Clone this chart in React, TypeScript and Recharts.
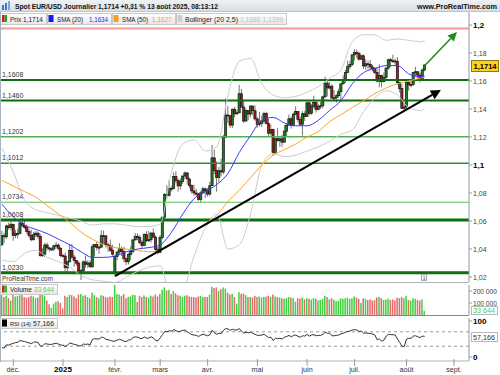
import React from 'react';
import { ComposedChart, Bar, Line, XAxis, YAxis, ReferenceLine, Cell } from 'recharts';

// Daily candles [open, high, low, close], 25 Nov 2024 -> 13 Aug 2025 (weekdays)
const ohlc: number[][] = [
  [1.0430,1.0530,1.0422,1.0495],[1.0495,1.0516,1.0444,1.0487],[1.0487,1.0574,1.0472,1.0565],[1.0565,1.0588,1.0539,1.0553],[1.0553,1.0597,1.0535,1.0577],
  [1.0577,1.0578,1.0459,1.0497],[1.0497,1.0537,1.0476,1.0510],[1.0510,1.0545,1.0475,1.0512],[1.0512,1.0600,1.0506,1.0586],[1.0586,1.0630,1.0555,1.0567],
  [1.0567,1.0610,1.0545,1.0555],[1.0555,1.0575,1.0510,1.0526],[1.0526,1.0545,1.0480,1.0497],[1.0497,1.0537,1.0455,1.0466],[1.0466,1.0523,1.0460,1.0502],
  [1.0502,1.0530,1.0485,1.0513],[1.0513,1.0525,1.0470,1.0490],[1.0490,1.0508,1.0345,1.0352],[1.0352,1.0405,1.0343,1.0364],[1.0364,1.0445,1.0344,1.0429],
  [1.0429,1.0445,1.0390,1.0408],[1.0408,1.0415,1.0380,1.0400],[1.0400,1.0410,1.0390,1.0400],[1.0400,1.0430,1.0385,1.0423],[1.0423,1.0450,1.0405,1.0428],
  [1.0428,1.0440,1.0390,1.0405],[1.0405,1.0415,1.0340,1.0354],[1.0354,1.0365,1.0340,1.0350],[1.0350,1.0375,1.0225,1.0266],[1.0266,1.0315,1.0240,1.0308],
  [1.0308,1.0436,1.0305,1.0390],[1.0390,1.0437,1.0330,1.0342],[1.0342,1.0360,1.0273,1.0318],[1.0318,1.0320,1.0280,1.0299],[1.0299,1.0314,1.0215,1.0244],
  [1.0244,1.0256,1.0178,1.0245],[1.0245,1.0318,1.0234,1.0308],[1.0308,1.0353,1.0266,1.0291],[1.0291,1.0320,1.0265,1.0300],[1.0300,1.0318,1.0267,1.0273],
  [1.0273,1.0434,1.0265,1.0416],[1.0416,1.0434,1.0346,1.0432],[1.0432,1.0454,1.0390,1.0411],[1.0411,1.0425,1.0365,1.0413],[1.0413,1.0533,1.0410,1.0495],
  [1.0495,1.0532,1.0435,1.0494],[1.0494,1.0500,1.0410,1.0430],[1.0430,1.0445,1.0380,1.0422],[1.0422,1.0468,1.0380,1.0391],[1.0391,1.0430,1.0352,1.0363],
  [1.0240,1.0355,1.0210,1.0346],[1.0346,1.0390,1.0320,1.0378],[1.0378,1.0442,1.0357,1.0403],[1.0403,1.0418,1.0350,1.0382],[1.0382,1.0415,1.0305,1.0330],
  [1.0330,1.0340,1.0285,1.0309],[1.0309,1.0372,1.0290,1.0360],[1.0360,1.0419,1.0320,1.0383],[1.0383,1.0470,1.0370,1.0465],[1.0465,1.0514,1.0460,1.0491],
  [1.0491,1.0513,1.0463,1.0482],[1.0482,1.0500,1.0435,1.0447],[1.0447,1.0463,1.0400,1.0424],[1.0424,1.0513,1.0420,1.0503],[1.0503,1.0528,1.0450,1.0460],
  [1.0460,1.0528,1.0450,1.0466],[1.0466,1.0520,1.0445,1.0514],[1.0514,1.0546,1.0480,1.0485],[1.0485,1.0498,1.0383,1.0398],[1.0398,1.0415,1.0360,1.0377],
  [1.0377,1.0500,1.0370,1.0483],[1.0483,1.0630,1.0470,1.0627],[1.0627,1.0800,1.0610,1.0790],[1.0790,1.0855,1.0760,1.0782],[1.0782,1.0890,1.0775,1.0833],
  [1.0833,1.0850,1.0810,1.0832],[1.0832,1.0947,1.0825,1.0919],[1.0919,1.0955,1.0870,1.0888],[1.0888,1.0905,1.0810,1.0851],[1.0851,1.0905,1.0825,1.0882],
  [1.0882,1.0925,1.0865,1.0921],[1.0921,1.0955,1.0900,1.0943],[1.0943,1.0950,1.0860,1.0900],[1.0900,1.0910,1.0835,1.0853],[1.0853,1.0860,1.0795,1.0815],
  [1.0815,1.0860,1.0780,1.0800],[1.0800,1.0830,1.0776,1.0792],[1.0792,1.0800,1.0745,1.0753],[1.0753,1.0815,1.0733,1.0801],[1.0801,1.0845,1.0795,1.0830],
  [1.0830,1.0838,1.0765,1.0816],[1.0816,1.0835,1.0775,1.0792],[1.0792,1.0880,1.0780,1.0852],[1.0852,1.1144,1.0850,1.1051],[1.1051,1.1108,1.0935,1.0961],
  [1.0961,1.1025,1.0810,1.0910],[1.0910,1.0985,1.0880,1.0959],[1.0959,1.1045,1.0920,1.0950],[1.0950,1.1215,1.0935,1.1198],[1.1198,1.1475,1.1195,1.1357],
  [1.1357,1.1423,1.1300,1.1352],[1.1352,1.1355,1.1265,1.1285],[1.1285,1.1405,1.1265,1.1398],[1.1398,1.1415,1.1340,1.1366],[1.1366,1.1393,1.1355,1.1373],
  [1.1373,1.1573,1.1370,1.1509],[1.1509,1.1543,1.1410,1.1414],[1.1414,1.1460,1.1300,1.1314],[1.1314,1.1405,1.1310,1.1389],[1.1389,1.1390,1.1320,1.1364],
  [1.1364,1.1425,1.1340,1.1421],[1.1421,1.1425,1.1355,1.1388],[1.1388,1.1425,1.1315,1.1329],[1.1329,1.1345,1.1265,1.1289],[1.1289,1.1380,1.1275,1.1298],
  [1.1298,1.1355,1.1270,1.1314],[1.1314,1.1380,1.1300,1.1367],[1.1367,1.1380,1.1290,1.1296],[1.1296,1.1330,1.1200,1.1227],[1.1227,1.1290,1.1210,1.1253],
  [1.1253,1.1260,1.1065,1.1089],[1.1089,1.1195,1.1075,1.1188],[1.1188,1.1265,1.1170,1.1173],[1.1173,1.1205,1.1130,1.1187],[1.1187,1.1215,1.1130,1.1163],
  [1.1163,1.1285,1.1160,1.1242],[1.1242,1.1290,1.1205,1.1285],[1.1285,1.1360,1.1280,1.1330],[1.1330,1.1345,1.1260,1.1281],[1.1281,1.1375,1.1275,1.1363],
  [1.1363,1.1420,1.1355,1.1381],[1.1381,1.1385,1.1305,1.1325],[1.1325,1.1345,1.1280,1.1291],[1.1291,1.1385,1.1210,1.1366],[1.1366,1.1385,1.1315,1.1347],
  [1.1347,1.1455,1.1345,1.1444],[1.1444,1.1455,1.1355,1.1370],[1.1370,1.1435,1.1360,1.1420],[1.1420,1.1495,1.1405,1.1446],[1.1446,1.1455,1.1375,1.1396],
  [1.1396,1.1435,1.1390,1.1420],[1.1420,1.1450,1.1400,1.1423],[1.1423,1.1495,1.1405,1.1487],[1.1487,1.1631,1.1480,1.1585],[1.1585,1.1615,1.1490,1.1550],
  [1.1550,1.1595,1.1540,1.1563],[1.1563,1.1580,1.1475,1.1478],[1.1478,1.1535,1.1455,1.1480],[1.1480,1.1505,1.1445,1.1495],[1.1495,1.1545,1.1480,1.1523],
  [1.1523,1.1585,1.1450,1.1580],[1.1580,1.1640,1.1575,1.1610],[1.1610,1.1680,1.1585,1.1662],[1.1662,1.1745,1.1655,1.1702],[1.1702,1.1745,1.1685,1.1718],
  [1.1718,1.1790,1.1705,1.1787],[1.1787,1.1829,1.1745,1.1804],[1.1804,1.1825,1.1765,1.1798],[1.1798,1.1810,1.1745,1.1756],[1.1756,1.1790,1.1750,1.1780],
  [1.1780,1.1790,1.1685,1.1707],[1.1707,1.1755,1.1680,1.1723],[1.1723,1.1745,1.1685,1.1719],[1.1719,1.1750,1.1680,1.1700],[1.1700,1.1715,1.1670,1.1689],
  [1.1689,1.1700,1.1650,1.1662],[1.1662,1.1695,1.1590,1.1599],[1.1599,1.1720,1.1555,1.1640],[1.1640,1.1645,1.1555,1.1595],[1.1595,1.1660,1.1590,1.1626],
  [1.1626,1.1700,1.1615,1.1692],[1.1692,1.1760,1.1680,1.1752],[1.1752,1.1765,1.1700,1.1745],[1.1745,1.1788,1.1730,1.1743],[1.1743,1.1760,1.1710,1.1741],
  [1.1741,1.1770,1.1575,1.1588],[1.1588,1.1595,1.1520,1.1546],[1.1546,1.1580,1.1400,1.1405],[1.1405,1.1445,1.1390,1.1415],[1.1415,1.1600,1.1390,1.1590],
  [1.1590,1.1600,1.1530,1.1572],[1.1572,1.1610,1.1555,1.1574],[1.1574,1.1665,1.1565,1.1660],[1.1660,1.1700,1.1635,1.1666],[1.1666,1.1670,1.1620,1.1642],
  [1.1642,1.1660,1.1590,1.1616],[1.1616,1.1690,1.1605,1.1678],[1.1678,1.1720,1.1670,1.1714],
];

const volumes: number[] = [
  165000,150000,160000,140000,120000, 170000,155000,160000,165000,175000,
  150000,145000,150000,160000,155000, 140000,145000,190000,175000,160000,
  120000,90000,60000,95000,110000, 115000,100000,55000,160000,150000,
  170000,165000,155000,140000,170000, 175000,160000,165000,150000,140000,
  185000,165000,150000,140000,165000, 160000,150000,145000,155000,150000,
  250000,175000,170000,160000,175000, 140000,150000,155000,170000,165000,
  110000,160000,150000,165000,150000, 145000,160000,155000,170000,155000,
  175000,210000,230000,205000,210000, 175000,200000,180000,165000,160000,
  150000,160000,165000,155000,150000, 150000,145000,155000,160000,150000,
  150000,150000,170000,235000,225000, 230000,200000,215000,230000,220000,
  185000,170000,175000,150000,95000, 190000,175000,180000,165000,150000,
  150000,145000,160000,150000,155000, 145000,150000,155000,160000,150000,
  170000,155000,150000,145000,140000, 135000,140000,150000,145000,140000,
  110000,140000,135000,145000,130000, 140000,135000,130000,140000,135000,
  120000,125000,135000,160000,150000, 130000,140000,130000,115000,120000,
  140000,135000,140000,145000,135000, 140000,155000,145000,135000,100000,
  140000,135000,125000,130000,120000, 125000,145000,150000,140000,125000,
  130000,135000,125000,130000,120000, 145000,140000,150000,140000,160000,
  125000,120000,140000,135000,125000, 120000,130000,33644,
];

const rsi: number[] = [
  26,25,34,33,36, 38,40,41,46,44, 43,41,39,37,41, 42,40,30,31,37,
  36,35,35,37,38, 36,33,33,29,33, 39,37,35,34,31, 31,36,35,36,34,
  49,51,50,50,55, 54,49,48,46,44, 44,47,49,47,44, 43,47,48,54,56,
  55,52,51,56,52, 53,56,53,46,45, 53,62,71,70,73, 72,76,73,70,72,
  74,75,70,66,62, 61,60,57,61,63, 61,59,62,74,67, 63,66,65,74,79,
  78,74,77,75,75, 79,72,66,69,67, 69,66,63,60,60, 61,63,58,54,55,
  46,52,51,52,50, 55,57,60,56,60, 61,57,55,59,58, 63,58,61,62,59,
  60,60,63,69,66, 66,59,59,60,61, 64,66,69,71,72, 75,76,75,71,72,
  66,67,66,65,64, 61,48,50,44,47, 58,63,62,62,61, 50,40,30,29,50,
  52,52,58,59,56, 54,58,57.166,
];

// Indicator lines: [day index, value]
const sma20Pts: number[][] = [
  [0,1.072],[5,1.063],[10,1.057],[15,1.054],[20,1.051],[25,1.047],[30,1.043],[35,1.038],[40,1.034],[45,1.034],
  [50,1.035],[55,1.038],[60,1.040],[65,1.041],[70,1.043],[75,1.052],[80,1.065],[85,1.076],[90,1.081],[95,1.086],
  [100,1.094],[105,1.109],[110,1.121],[115,1.132],[120,1.134],[125,1.130],[130,1.128],[135,1.128],[140,1.132],[145,1.139],
  [150,1.146],[155,1.158],[160,1.166],[165,1.169],[170,1.171],[175,1.171],[180,1.165],[185,1.163],[187,1.1634],
];
const sma50Pts: number[][] = [
  [0,1.089],[5,1.085],[10,1.081],[15,1.077],[20,1.071],[25,1.065],[30,1.059],[35,1.052],[40,1.047],[45,1.043],
  [50,1.041],[55,1.040],[60,1.039],[65,1.038],[70,1.039],[75,1.043],[80,1.048],[85,1.053],[90,1.058],[95,1.064],
  [100,1.074],[105,1.082],[110,1.091],[115,1.100],[120,1.107],[125,1.111],[130,1.115],[135,1.120],[140,1.124],[145,1.131],
  [150,1.136],[155,1.141],[160,1.146],[165,1.151],[170,1.155],[175,1.158],[180,1.160],[185,1.162],[187,1.1627],
];
const bbUpperPts: number[][] = [
  [0,1.112],[5,1.095],[10,1.075],[15,1.068],[20,1.066],[25,1.064],[30,1.062],[35,1.060],[40,1.057],[45,1.058],
  [50,1.058],[55,1.057],[60,1.056],[65,1.056],[70,1.058],[75,1.095],[80,1.115],[85,1.118],[90,1.110],[95,1.113],
  [100,1.150],[105,1.174],[110,1.176],[115,1.158],[120,1.150],[125,1.148],[130,1.149],[135,1.152],[140,1.156],[145,1.162],
  [150,1.168],[155,1.188],[160,1.193],[165,1.193],[170,1.189],[175,1.190],[180,1.189],[185,1.188],[187,1.1888],
];
const bbLowerPts: number[][] = [
  [0,1.032],[5,1.031],[10,1.037],[15,1.039],[20,1.034],[25,1.031],[30,1.027],[35,1.021],[40,1.018],[45,1.017],
  [50,1.016],[55,1.020],[60,1.024],[65,1.027],[70,1.028],[75,1.005],[80,1.010],[85,1.035],[90,1.055],[95,1.065],
  [100,1.040],[105,1.043],[110,1.065],[115,1.100],[120,1.108],[125,1.106],[130,1.107],[135,1.110],[140,1.113],[145,1.117],
  [150,1.122],[155,1.125],[160,1.138],[165,1.148],[170,1.153],[175,1.150],[180,1.141],[185,1.139],[187,1.1399],
];

const monthTicks = [5, 27, 50, 70, 91, 113, 135, 156, 179, 200];
const monthLabels = ['déc.', '2025', 'févr.', 'mars', 'avr.', 'mai', 'juin', 'juil.', 'août', 'sept.'];

const priceTicks = [1.02, 1.04, 1.06, 1.08, 1.1, 1.12, 1.14, 1.16, 1.18, 1.2];
const priceTickLabels = ['1,02', '1,04', '1,06', '1,08', '1,1', '1,12', '1,14', '1,16', '1,18', '1,2'];

const levels = [1.1975, 1.1608, 1.146, 1.1202, 1.1012, 1.0734, 1.0608, 1.023];
const levelLabels = ['', '1,1608', '1,1460', '1,1202', '1,1012', '1,0734', '1,0608', '1,0230'];
const levelStyles = [
  { c: '#f29a9a', w: 2 }, { c: '#0d6e12', w: 2 }, { c: '#0d6e12', w: 2 }, { c: '#55ad55', w: 1.5 },
  { c: '#2f8f35', w: 1.5 }, { c: '#5cb85c', w: 1.2 }, { c: '#0d6e12', w: 3 }, { c: '#0d6e12', w: 3 },
];

// trend line and projection arrow: [day index, price]
const trendLine = [[50, 1.0207], [194.2, 1.1536]];
const projection = [[187.2, 1.1712], [201.3, 1.195]];

const volTicks = [100000, 200000];
const volTickLabels = ['100 000', '200 000'];

const toMap = (pts: number[][]) => new Map(pts.map((p) => [p[0], p[1]]));
const m20 = toMap(sma20Pts), m50 = toMap(sma50Pts), mU = toMap(bbUpperPts), mL = toMap(bbLowerPts);

const rows = ohlc.map((d, i) => ({
  i,
  o: d[0], h: d[1], l: d[2], c: d[3],
  range: [d[2], d[1]],
  vol: volumes[i],
  rsi: rsi[i],
  sma20: m20.has(i) ? m20.get(i) : null,
  sma50: m50.has(i) ? m50.get(i) : null,
  bbU: mU.has(i) ? mU.get(i) : null,
  bbL: mL.has(i) ? mL.get(i) : null,
}));

const X0 = -0.885, X1 = 206.64;
const Y0 = 1.016429, Y1 = 1.21;
const FONT = '"Liberation Sans", Arial, sans-serif';

const Candle = (props: any) => {
  const { x, y, width, height, payload } = props;
  if (x == null || y == null) return null;
  const top = Math.min(y, y + height);
  const bot = Math.max(y, y + height);
  const span = payload.h - payload.l || 1e-9;
  const k = (bot - top) / span;
  const yO = top + (payload.h - payload.o) * k;
  const yC = top + (payload.h - payload.c) * k;
  const cx = x + width / 2;
  const up = payload.c >= payload.o;
  const bt = Math.min(yO, yC);
  const bh = Math.max(1, Math.abs(yC - yO));
  return (
    <g>
      <line x1={cx} x2={cx} y1={top} y2={bot} stroke="#666" strokeWidth={0.9} />
      <rect x={cx - 1.1} y={bt} width={2.2} height={bh} fill={up ? '#1b7d20' : '#a8181b'} stroke="#111" strokeWidth={0.65} />
    </g>
  );
};

const arrowShape = (color: string, w: number, head: number) => (p: any) => {
  const { x1, y1, x2, y2 } = p;
  if (x1 == null) return null;
  const a = Math.atan2(y2 - y1, x2 - x1);
  const bx = x2 - head * Math.cos(a), by = y2 - head * Math.sin(a);
  const hw = head * 0.5;
  const px = -Math.sin(a) * hw, py = Math.cos(a) * hw;
  return (
    <g>
      <line x1={x1} y1={y1} x2={bx} y2={by} stroke={color} strokeWidth={w} />
      <polygon points={`${x2},${y2} ${bx + px},${by + py} ${bx - px},${by - py}`} fill={color} />
    </g>
  );
};

const LevelLabel = (props: any) => {
  const vb = props.viewBox || {};
  if (!props.text) return null;
  return (
    <text x={(vb.x || 0) + 2} y={(vb.y || 0) - 3} fontSize={7} fill="#333" fontFamily={FONT}>{props.text}</text>
  );
};

const PriceTick = (props: any) => {
  const { x, y, payload } = props;
  const idx = priceTicks.indexOf(payload.value);
  const bold = payload.value === 1.2 || payload.value === 1.1;
  return (
    <text x={x} y={y + 2.5} fontSize={bold ? 8 : 7} fontWeight={bold ? 700 : 400} fill={bold ? '#000' : '#444'} fontFamily={FONT}>
      {priceTickLabels[idx]}
    </text>
  );
};

const VolTick = (props: any) => {
  const { x, y, payload } = props;
  const idx = volTicks.indexOf(payload.value);
  return (
    <text x={x} y={y + 2.5} fontSize={6.6} fill="#444" fontFamily={FONT}>{volTickLabels[idx]}</text>
  );
};

const RsiTick = (props: any) => {
  const { x, y, payload } = props;
  return (
    <text x={x} y={y + 3} fontSize={8} fontWeight={700} fill="#000" fontFamily={FONT}>{String(payload.value)}</text>
  );
};

const MonthTick = (props: any) => {
  const { x, y, payload } = props;
  const idx = monthTicks.indexOf(payload.value);
  const bold = monthLabels[idx] === '2025';
  return (
    <g>
      <line x1={x} x2={x} y1={y - 6} y2={y + 1} stroke="#999" />
      <text x={x} y={y + 7} textAnchor="middle" fontSize={bold ? 8 : 7.2} fontWeight={bold ? 700 : 400} fill={bold ? '#000' : '#333'} fontFamily={FONT}>
        {monthLabels[idx]}
      </text>
    </g>
  );
};

const LegendBox = ({ x, y, w, h }: any) => (
  <rect x={x + 0.5} y={y + 0.5} width={w} height={h} fill="url(#lg)" stroke="#c9c9c9" />
);

export default function App() {
  return (
    <div style={{ position: 'absolute', left: 0, top: 0, width: 500, height: 375, background: '#fff', overflow: 'hidden', fontFamily: FONT }}>
      {/* main price panel */}
      <div style={{ position: 'absolute', left: 0, top: 0 }}>
        <ComposedChart width={500} height={283} data={rows} margin={{ top: 11, right: 0, bottom: 1, left: 0 }}>
          <XAxis type="number" dataKey="i" domain={[X0, X1]} hide allowDataOverflow />
          <YAxis
            orientation="right" type="number" domain={[Y0, Y1]} ticks={priceTicks} interval={0} width={31}
            allowDataOverflow tick={<PriceTick />} tickSize={3} tickMargin={1}
            axisLine={{ stroke: '#8c9aa6' }} tickLine={{ stroke: '#8c9aa6' }}
          />
          {levels.map((v, k) => (
            <ReferenceLine key={'lv' + k} y={v} stroke={levelStyles[k].c} strokeWidth={levelStyles[k].w}
              label={<LevelLabel text={levelLabels[k]} />} />
          ))}
          <Line dataKey="bbU" stroke="#cdcdcd" strokeWidth={1} dot={false} connectNulls isAnimationActive={false} type="monotone" />
          <Line dataKey="bbL" stroke="#cdcdcd" strokeWidth={1} dot={false} connectNulls isAnimationActive={false} type="monotone" />
          <Line dataKey="sma50" stroke="#ffa228" strokeWidth={1} dot={false} connectNulls isAnimationActive={false} type="monotone" />
          <Line dataKey="sma20" stroke="#3a3aff" strokeWidth={1} dot={false} connectNulls isAnimationActive={false} type="monotone" />
          <Bar dataKey="range" shape={Candle} barSize={2} isAnimationActive={false} />
          <ReferenceLine segment={[{ x: trendLine[0][0], y: trendLine[0][1] }, { x: trendLine[1][0], y: trendLine[1][1] }]}
            shape={arrowShape('#000', 2, 10)} ifOverflow="visible" />
          <ReferenceLine segment={[{ x: projection[0][0], y: projection[0][1] }, { x: projection[1][0], y: projection[1][1] }]}
            shape={arrowShape('#1f8c1f', 1.6, 9)} ifOverflow="visible" />
        </ComposedChart>
      </div>

      {/* volume panel */}
      <div style={{ position: 'absolute', left: 0, top: 283 }}>
        <ComposedChart width={500} height={33} data={rows} margin={{ top: 2, right: 0, bottom: 1, left: 0 }}>
          <XAxis type="number" dataKey="i" domain={[X0, X1]} hide allowDataOverflow />
          <YAxis orientation="right" type="number" domain={[0, 250000]} ticks={volTicks} interval={0} width={31}
            allowDataOverflow tick={<VolTick />} tickSize={3} tickMargin={1}
            axisLine={{ stroke: '#8c9aa6' }} tickLine={{ stroke: '#8c9aa6' }} />
          <Bar dataKey="vol" barSize={1.5} isAnimationActive={false}>
            {rows.map((r, k) => (
              <Cell key={'v' + k} fill={r.c >= r.o ? '#3fcf3f' : '#e26a6a'} />
            ))}
          </Bar>
        </ComposedChart>
      </div>

      {/* RSI panel with date axis */}
      <div style={{ position: 'absolute', left: 0, top: 316 }}>
        <ComposedChart width={500} height={59} data={rows} margin={{ top: 2, right: 0, bottom: 0, left: 0 }}>
          <XAxis type="number" dataKey="i" domain={[X0, X1]} allowDataOverflow ticks={monthTicks} interval={0}
            tick={<MonthTick />} tickLine={false} tickSize={4} tickMargin={0} height={14}
            axisLine={{ stroke: '#b0b0b0' }} />
          <YAxis orientation="right" type="number" domain={[-11.11, 108.33]} ticks={[0, 100]} interval={0} width={31}
            allowDataOverflow tick={<RsiTick />} tickSize={3} tickMargin={1}
            axisLine={{ stroke: '#8c9aa6' }} tickLine={{ stroke: '#8c9aa6' }} />
          <ReferenceLine y={70} stroke="#9a9a9a" strokeDasharray="3 3" />
          <ReferenceLine y={30} stroke="#9a9a9a" strokeDasharray="3 3" />
          <Line dataKey="rsi" stroke="#333" strokeWidth={1} dot={false} isAnimationActive={false} />
        </ComposedChart>
      </div>

      {/* decorations: title bar, legends, value boxes */}
      <svg width={500} height={375} style={{ position: 'absolute', left: 0, top: 0, pointerEvents: 'none' }} fontFamily={FONT}>
        <defs>
          <linearGradient id="tb" x1="0" y1="0" x2="0" y2="1">
            <stop offset="0" stopColor="#eef2f5" />
            <stop offset="1" stopColor="#d5dde3" />
          </linearGradient>
          <linearGradient id="lg" x1="0" y1="0" x2="0" y2="1">
            <stop offset="0" stopColor="#ffffff" />
            <stop offset="1" stopColor="#e6e6e6" />
          </linearGradient>
        </defs>
        <rect x={0} y={0} width={500} height={12} fill="url(#tb)" />
        <line x1={0} x2={500} y1={11.5} y2={11.5} stroke="#b9c4cc" />
        <rect x={2} y={5} width={2} height={5} fill="#3b78c8" />
        <rect x={5} y={3} width={2} height={7} fill="#3b78c8" />
        <rect x={8} y={1} width={2} height={9} fill="#7aa6d8" />
        <text x={15} y={9.3} fontSize={7.4} fontWeight={700} fill="#111" textLength={203} lengthAdjust="spacingAndGlyphs">
          Spot EUR/USD Journalier 1,1714 +0,31 % 13 août 2025, 08:13:12
        </text>
        <text x={417} y={9.3} fontSize={7.1} fontWeight={700} fill="#111" textLength={80} lengthAdjust="spacingAndGlyphs">
          www.ProRealTime.com
        </text>

        {/* price legend */}
        <LegendBox x={0} y={13} w={46} h={11} />
        <rect x={2} y={15} width={2.5} height={7} fill="#c82020" />
        <rect x={4.5} y={15} width={2.5} height={7} fill="#22a022" />
        <text x={10} y={22} fontSize={6.8} fill="#222" textLength={33} lengthAdjust="spacingAndGlyphs">Prix 1,1714</text>

        <LegendBox x={47} y={13} w={64} h={11} />
        <rect x={48.5} y={15} width={5} height={7} fill="#1818ee" />
        <text x={57} y={22} fontSize={6.6} fill="#222" textLength={26} lengthAdjust="spacingAndGlyphs">SMA (20)</text>
        <text x={89} y={22} fontSize={6.8} fill="#2a2aff" textLength={19} lengthAdjust="spacingAndGlyphs">1,1634</text>

        <LegendBox x={112} y={13} w={63} h={11} />
        <rect x={113.5} y={15} width={5} height={7} fill="#ff9a1a" />
        <text x={122} y={22} fontSize={6.6} fill="#222" textLength={26} lengthAdjust="spacingAndGlyphs">SMA (50)</text>
        <text x={152} y={22} fontSize={6.8} fill="#ff9a1a" textLength={20} lengthAdjust="spacingAndGlyphs">1,1627</text>

        <LegendBox x={176} y={13} w={110} h={11} />
        <rect x={177.5} y={15} width={5} height={7} fill="#cfcfcf" />
        <text x={185} y={22} fontSize={6.6} fill="#222" textLength={53} lengthAdjust="spacingAndGlyphs">Bollinger (20 2,5)</text>
        <text x={240} y={22} fontSize={6.8} fill="#c4c4c4" textLength={43} lengthAdjust="spacingAndGlyphs">1,1888 1,1399</text>

        {/* last price box */}
        <rect x={471.5} y={60.5} width={27} height={11} fill="#ffd21a" stroke="#8a7a20" />
        <text x={473.5} y={69} fontSize={7.4} fontWeight={700} fill="#000" textLength={23} lengthAdjust="spacingAndGlyphs">1,1714</text>

        <text x={2} y={281} fontSize={6.8} fill="#333" textLength={51} lengthAdjust="spacingAndGlyphs">ProRealTime.com</text>
        <rect x={421.5} y={274.5} width={5} height={6} fill="#f4f4f4" stroke="#aaa" />
        <text x={422.8} y={279.8} fontSize={5} fill="#666">1</text>

        {/* panel borders */}
        <line x1={0} x2={469} y1={282.5} y2={282.5} stroke="#aab4bc" />
        <line x1={0} x2={469} y1={315.5} y2={315.5} stroke="#7f8a92" />
        <line x1={0.5} x2={0.5} y1={12} y2={362} stroke="#a4b2be" />

        {/* volume legend & value */}
        <LegendBox x={0} y={284} w={57} h={10} />
        <rect x={2} y={285.5} width={2.5} height={7} fill="#c82020" />
        <rect x={4.5} y={285.5} width={2.5} height={7} fill="#22c022" />
        <text x={10} y={292} fontSize={6.4} fill="#222" textLength={22} lengthAdjust="spacingAndGlyphs">Volume</text>
        <text x={34} y={292} fontSize={6.6} fill="#5ccc5c" textLength={20} lengthAdjust="spacingAndGlyphs">33 644</text>
        <rect x={471.5} y={306.5} width={26} height={8} fill="#fff" stroke="#b8b8b8" />
        <text x={473} y={313.3} fontSize={6.6} fill="#4fc84f" textLength={22} lengthAdjust="spacingAndGlyphs">33 644</text>

        {/* RSI legend & value */}
        <LegendBox x={0} y={318} w={57} h={10} />
        <rect x={2} y={319.5} width={5} height={7} fill="#000" />
        <text x={10} y={326} fontSize={6.2} fill="#222" textLength={21} lengthAdjust="spacingAndGlyphs">RSI (14)</text>
        <text x={33} y={326} fontSize={6.6} fill="#222" textLength={21} lengthAdjust="spacingAndGlyphs">57,166</text>
        <rect x={471.5} y={332.5} width={26} height={9} fill="#fff" stroke="#b8b8b8" />
        <text x={473} y={340} fontSize={6.6} fill="#333" textLength={22} lengthAdjust="spacingAndGlyphs">57,166</text>
      </svg>
    </div>
  );
}
